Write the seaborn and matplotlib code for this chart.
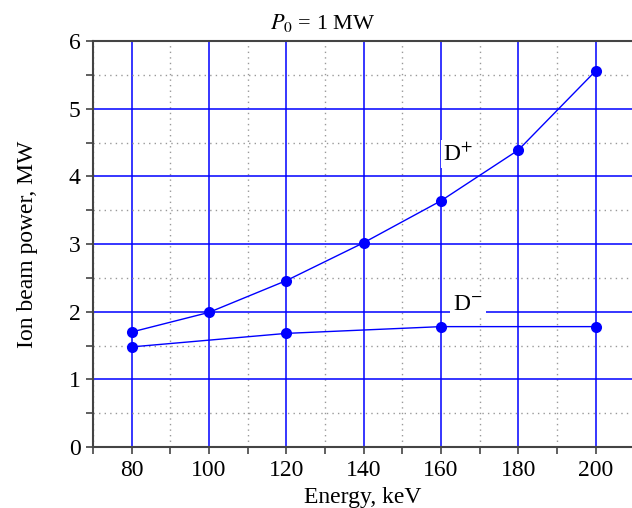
import matplotlib
matplotlib.use("Agg")
import matplotlib.pyplot as plt
from matplotlib.ticker import MultipleLocator
import seaborn as sns
import pandas as pd

# data
energy_dplus = [80, 100, 120, 140, 160, 180, 200]
power_dplus = [1.70, 1.99, 2.46, 3.02, 3.64, 4.39, 5.56]
energy_dminus = [80, 120, 160, 200]
power_dminus = [1.48, 1.68, 1.78, 1.78]

sns.set_theme(style="white")
plt.rcParams["font.family"] = "serif"
plt.rcParams["font.serif"] = ["Liberation Serif", "Times New Roman", "DejaVu Serif"]
plt.rcParams["mathtext.fontset"] = "stix"
plt.rcParams["text.color"] = "black"
plt.rcParams["xtick.color"] = "black"
plt.rcParams["ytick.color"] = "black"
plt.rcParams["axes.labelcolor"] = "black"

df = pd.concat([
    pd.DataFrame({"energy": energy_dplus, "power": power_dplus, "ion": "D+"}),
    pd.DataFrame({"energy": energy_dminus, "power": power_dminus, "ion": "D-"}),
])

fig = plt.figure(figsize=(6.32, 5.08), dpi=100)
ax = fig.add_axes([0.147, 0.120, 0.853, 0.799])

sns.lineplot(data=df, x="energy", y="power", units="ion", estimator=None,
             color="blue", linewidth=1.0, marker="o", markersize=8,
             markeredgewidth=0, sort=True, ax=ax, zorder=4)

ax.set_xlim(70, 209.4)
ax.set_ylim(0, 6)
ax.xaxis.set_major_locator(MultipleLocator(20))
ax.xaxis.set_minor_locator(MultipleLocator(10))
ax.yaxis.set_major_locator(MultipleLocator(1))
ax.yaxis.set_minor_locator(MultipleLocator(0.5))
ax.set_xticks([80, 100, 120, 140, 160, 180, 200])

ax.grid(which="major", color="blue", linewidth=1.1, linestyle="-", zorder=1)
ax.grid(which="minor", color="#999999", linewidth=1.0, linestyle=(0, (1, 3)), zorder=1)
ax.set_axisbelow(True)

for side in ["left", "bottom", "top"]:
    ax.spines[side].set_color("#444444")
    ax.spines[side].set_linewidth(1.5)
ax.spines["right"].set_visible(False)

ax.tick_params(which="both", direction="out", length=5, width=1.2,
               color="#444444", labelsize=17, bottom=True, left=True,
               top=False, right=False)
ax.tick_params(which="major", pad=4)

ax.set_xlabel("Energy, keV", fontsize=17, labelpad=5)
ax.set_ylabel("Ion beam power, MW", fontsize=17, labelpad=22)

ax.text(164.5, 4.33, r"D$^{+}$", fontsize=17, ha="center", va="center",
        bbox=dict(facecolor="white", edgecolor="none", pad=2), zorder=3)
ax.text(167.0, 2.1, r"D$^{-}$", fontsize=17, ha="center", va="center",
        bbox=dict(facecolor="white", edgecolor="none", pad=2), zorder=3)

fig.text(0.51, 0.955, r"$P_0$ = 1 MW", fontsize=16, ha="center", va="center")

fig.savefig("out.png", dpi=100)
